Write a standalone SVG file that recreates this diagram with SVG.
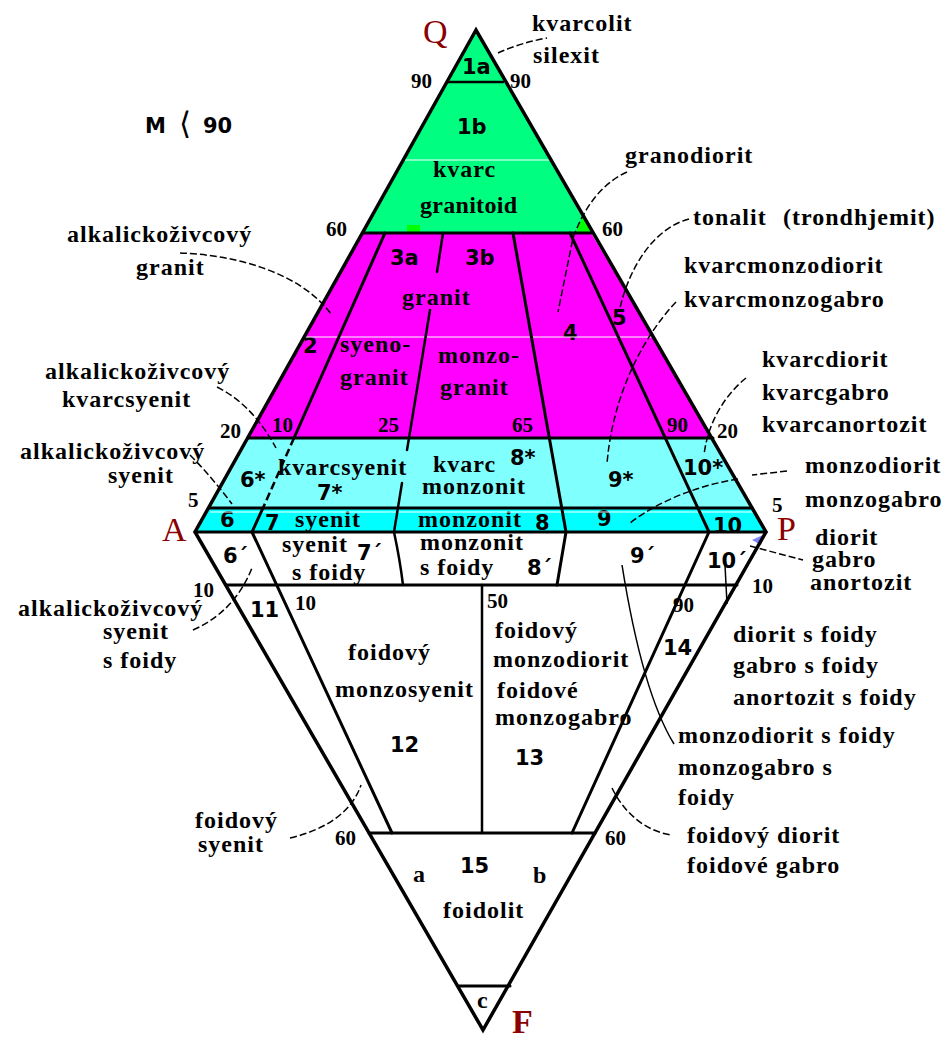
<svg xmlns="http://www.w3.org/2000/svg" width="947" height="1037" viewBox="0 0 947 1037">
<defs>
<style>
.nm{font-family:"Liberation Serif","Times New Roman",serif;font-weight:bold;font-size:24px;letter-spacing:1px;fill:#000}
.num{font-family:"Liberation Serif","Times New Roman",serif;font-weight:bold;font-size:21px;fill:#000}
.rg{font-family:"DejaVu Sans","Verdana",sans-serif;font-weight:bold;font-size:21px;fill:#000}
.ap{font-family:"Liberation Serif","Times New Roman",serif;font-size:34px;fill:#8B0000}
.ln{stroke:#000;stroke-width:3;fill:none;stroke-linecap:round;stroke-linejoin:round}
.lt{stroke:#000;stroke-width:2.5;fill:none;stroke-linecap:round}
.dl{stroke:#000;stroke-width:2.5;fill:none;stroke-dasharray:8 4}
.ld{stroke:#000;stroke-width:1.5;fill:none;stroke-dasharray:7 3}
.ls{stroke:#000;stroke-width:1.5;fill:none}
.wl{stroke:#fff;stroke-width:1.2}
</style>
</defs>
<rect width="947" height="1037" fill="#fff"/>

<g id="fills">
<polygon points="476,30 363,233 591,233" fill="#00FF80"/>
<polygon points="363,233 591,233 713,438 248,438" fill="#FF00FF"/>
<polygon points="248,438 713,438 752,508 209,508" fill="#80FFFF"/>
<polygon points="209,508 752,508 766,532 195,532" fill="#00FFFF"/>
<rect x="407" y="225" width="13" height="8" fill="#00FF00"/>
<polygon points="576,233 593,233 584,214" fill="#00FF00"/>
<polygon points="752,540 765,534 761,545" fill="#8080FF"/>
</g>

<g id="corner-Q"><text class="ap" x="423" y="43">Q</text></g>
<g id="corner-A"><text class="ap" x="162" y="541">A</text></g>
<g id="corner-P"><text class="ap" x="777" y="540">P</text></g>
<g id="corner-F"><text class="ap" x="512" y="1033" font-weight="bold">F</text></g>

<g id="title-M">
<text class="rg" x="145" y="133" font-size="24">M</text>
<text x="179" y="134" font-family="DejaVu Sans,sans-serif" font-size="31" fill="#000">⟨</text>
<text class="rg" x="203" y="133" font-size="24">90</text>
</g>

<g id="scale-numbers">
<text class="num" x="411" y="88">90</text>
<text class="num" x="510" y="88">90</text>
<text class="num" x="326" y="236">60</text>
<text class="num" x="602" y="236">60</text>
<text class="num" x="220" y="438">20</text>
<text class="num" x="272" y="432">10</text>
<text class="num" x="378" y="432">25</text>
<text class="num" x="512" y="432">65</text>
<text class="num" x="667" y="432">90</text>
<text class="num" x="717" y="438">20</text>
<text class="num" x="188" y="507">5</text>
<text class="num" x="772" y="512">5</text>
<text class="num" x="193" y="597">10</text>
<text class="num" x="295" y="610">10</text>
<text class="num" x="487" y="608">50</text>
<text class="num" x="673" y="612">90</text>
<text class="num" x="752" y="593">10</text>
<text class="num" x="335" y="845">60</text>
<text class="num" x="605" y="845">60</text>
</g>

<g id="region-1a"><text class="rg" x="462" y="74">1a</text></g>
<g id="region-1b">
<text class="rg" x="457" y="134">1b</text>
<text class="nm" x="433" y="177">kvarc</text>
<text class="nm" x="420" y="213" textLength="98">granitoid</text>
</g>
<g id="region-2"><text class="rg" x="303" y="353">2</text></g>
<g id="region-3"><text class="nm" x="402" y="305">granit</text></g>
<g id="region-3a">
<text class="rg" x="390" y="265">3a</text>
<text class="nm" x="340" y="352">syeno-</text>
<text class="nm" x="340" y="385">granit</text>
</g>
<g id="region-3b">
<text class="rg" x="465" y="265">3b</text>
<text class="nm" x="438" y="363">monzo-</text>
<text class="nm" x="440" y="395">granit</text>
</g>
<g id="region-4"><text class="rg" x="563" y="340">4</text></g>
<g id="region-5"><text class="rg" x="612" y="325">5</text></g>

<g id="region-6s"><text class="rg" x="240" y="487">6*</text></g>
<g id="region-7s">
<text class="nm" x="278" y="475">kvarcsyenit</text>
<text class="rg" x="317" y="500">7*</text>
</g>
<g id="region-8s">
<text class="nm" x="433" y="472">kvarc</text>
<text class="nm" x="422" y="494">monzonit</text>
<text class="rg" x="510" y="465">8*</text>
</g>
<g id="region-9s"><text class="rg" x="608" y="487">9*</text></g>
<g id="region-10s"><text class="rg" x="683" y="475">10*</text></g>

<g id="region-6"><text class="rg" x="220" y="527">6</text></g>
<g id="region-7">
<text class="rg" x="265" y="530">7</text>
<text class="nm" x="295" y="527">syenit</text>
</g>
<g id="region-8">
<text class="nm" x="418" y="527">monzonit</text>
<text class="rg" x="535" y="530">8</text>
</g>
<g id="region-9"><text class="rg" x="597" y="526">9</text></g>
<g id="region-10"><text class="rg" x="713" y="533">10</text></g>

<g id="region-6p"><text class="rg" x="223" y="563">6´</text></g>
<g id="region-7p">
<text class="nm" x="282" y="552">syenit</text>
<text class="rg" x="357" y="560">7´</text>
<text class="nm" x="292" y="580">s foidy</text>
</g>
<g id="region-8p">
<text class="nm" x="420" y="550">monzonit</text>
<text class="nm" x="420" y="575">s foidy</text>
<text class="rg" x="527" y="575">8´</text>
</g>
<g id="region-9p"><text class="rg" x="630" y="563">9´</text></g>
<g id="region-10p"><text class="rg" x="707" y="568">10´</text></g>

<g id="region-11"><text class="rg" x="250" y="617">11</text></g>
<g id="region-12">
<text class="nm" x="348" y="660">foidový</text>
<text class="nm" x="335" y="697">monzosyenit</text>
<text class="rg" x="390" y="752">12</text>
</g>
<g id="region-13">
<text class="nm" x="495" y="638">foidový</text>
<text class="nm" x="493" y="667">monzodiorit</text>
<text class="nm" x="497" y="698">foidové</text>
<text class="nm" x="495" y="725">monzogabro</text>
<text class="rg" x="515" y="765">13</text>
</g>
<g id="region-14"><text class="rg" x="663" y="655">14</text></g>
<g id="region-15">
<text class="nm" x="413" y="882">a</text>
<text class="rg" x="460" y="873">15</text>
<text class="nm" x="533" y="883">b</text>
<text class="nm" x="443" y="918">foidolit</text>
<text class="nm" x="477" y="1008">c</text>
</g>

<g id="label-kvarcolit">
<text class="nm" x="532" y="31">kvarcolit</text>
<text class="nm" x="533" y="63">silexit</text>
</g>
<g id="label-alk-granit">
<text class="nm" x="67" y="242">alkalickoživcový</text>
<text class="nm" x="136" y="275">granit</text>
</g>
<g id="label-granodiorit"><text class="nm" x="625" y="163">granodiorit</text></g>
<g id="label-tonalit">
<text class="nm" x="693" y="225">tonalit</text>
<text class="nm" x="783" y="225">(trondhjemit)</text>
</g>
<g id="label-kvarcmonzodiorit">
<text class="nm" x="684" y="273">kvarcmonzodiorit</text>
<text class="nm" x="684" y="307">kvarcmonzogabro</text>
</g>
<g id="label-alk-kvarcsyenit">
<text class="nm" x="45" y="379">alkalickoživcový</text>
<text class="nm" x="62" y="407">kvarcsyenit</text>
</g>
<g id="label-kvarcdiorit">
<text class="nm" x="762" y="367">kvarcdiorit</text>
<text class="nm" x="762" y="400">kvarcgabro</text>
<text class="nm" x="762" y="432">kvarcanortozit</text>
</g>
<g id="label-alk-syenit">
<text class="nm" x="20" y="459">alkalickoživcový</text>
<text class="nm" x="108" y="483">syenit</text>
</g>
<g id="label-monzodiorit">
<text class="nm" x="805" y="473">monzodiorit</text>
<text class="nm" x="805" y="507">monzogabro</text>
</g>
<g id="label-diorit">
<text class="nm" x="815" y="545">diorit</text>
<text class="nm" x="812" y="567">gabro</text>
<text class="nm" x="810" y="590">anortozit</text>
</g>
<g id="label-alk-syenit-foidy">
<text class="nm" x="18" y="616">alkalickoživcový</text>
<text class="nm" x="103" y="639">syenit</text>
<text class="nm" x="103" y="668">s foidy</text>
</g>
<g id="label-diorit-foidy">
<text class="nm" x="733" y="642">diorit s foidy</text>
<text class="nm" x="733" y="673">gabro s foidy</text>
<text class="nm" x="733" y="705">anortozit s foidy</text>
</g>
<g id="label-monzodiorit-foidy">
<text class="nm" x="678" y="743">monzodiorit s foidy</text>
<text class="nm" x="678" y="775">monzogabro s</text>
<text class="nm" x="678" y="805">foidy</text>
</g>
<g id="label-foidovy-syenit">
<text class="nm" x="195" y="828">foidový</text>
<text class="nm" x="198" y="852">syenit</text>
</g>
<g id="label-foidovy-diorit">
<text class="nm" x="687" y="843">foidový diorit</text>
<text class="nm" x="687" y="873">foidové gabro</text>
</g>

<g id="artifact-lines">
<line class="wl" x1="404" y1="160" x2="550" y2="160"/>
<line class="wl" x1="305" y1="337" x2="652" y2="337"/>
<line class="wl" x1="210" y1="512" x2="754" y2="512"/>
</g>

<g id="grid">
<path d="M476,30 L195,532 L483,1030 L766,532 Z" stroke="#000" stroke-width="3.5" fill="none" stroke-linejoin="miter"/>
<path class="lt" d="M448,82 H503"/>
<path class="ln" d="M363,233 H591"/>
<path class="ln" d="M248,438 H713"/>
<path class="ln" d="M209,508 H752"/>
<path class="ln" d="M195,532 H766"/>
<path class="ln" d="M226,585 H737"/>
<path class="ln" d="M369,833 H595"/>
<path class="ln" d="M459,986 H510"/>
<path class="ln" d="M385,233 L294,438"/>
<path class="dl" d="M294,438 L263,508"/>
<path class="ln" d="M263,508 L252,532 L392,833"/>
<path class="lt" d="M443,233 L437,272"/>
<path class="lt" d="M430,310 L409,438 L407,450"/>
<path class="lt" d="M402,483 L394,532 Q400,560 403,585"/>
<path class="ln" d="M513,233 L566,532 L557,585"/>
<path class="ln" d="M570,233 L709,532 L572,833"/>
<path class="lt" d="M482,585 L482,833"/>
</g>

<g id="connectors">
<path class="ld" d="M498,53 Q520,43 547,38"/>
<path class="ld" d="M180,253 C235,255 300,272 331,314"/>
<path class="ld" d="M627,172 C603,183 585,205 573,238 L558,312"/>
<path class="ld" d="M689,219 C655,228 630,265 620,308"/>
<path class="ld" d="M676,302 C640,340 612,400 607,464"/>
<path class="ld" d="M746,378 C725,395 708,422 704,455"/>
<path class="ld" d="M217,387 C243,400 262,422 276,448"/>
<path class="ld" d="M190,455 C205,470 220,488 232,504"/>
<path class="ld" d="M787,471 L752,475"/>
<path class="ld" d="M738,479 C700,485 660,500 630,523"/>
<path class="ld" d="M750,546 L803,560"/>
<path class="ld" d="M193,630 C220,618 240,598 252,568"/>
<path class="ld" d="M290,838 C325,830 352,812 361,785"/>
<path class="ls" d="M622,565 C634,640 650,705 674,744"/>
<path class="ld" d="M612,788 C625,815 648,832 672,835"/>
<path class="ls" d="M725,565 L727,604"/>
</g>
</svg>
